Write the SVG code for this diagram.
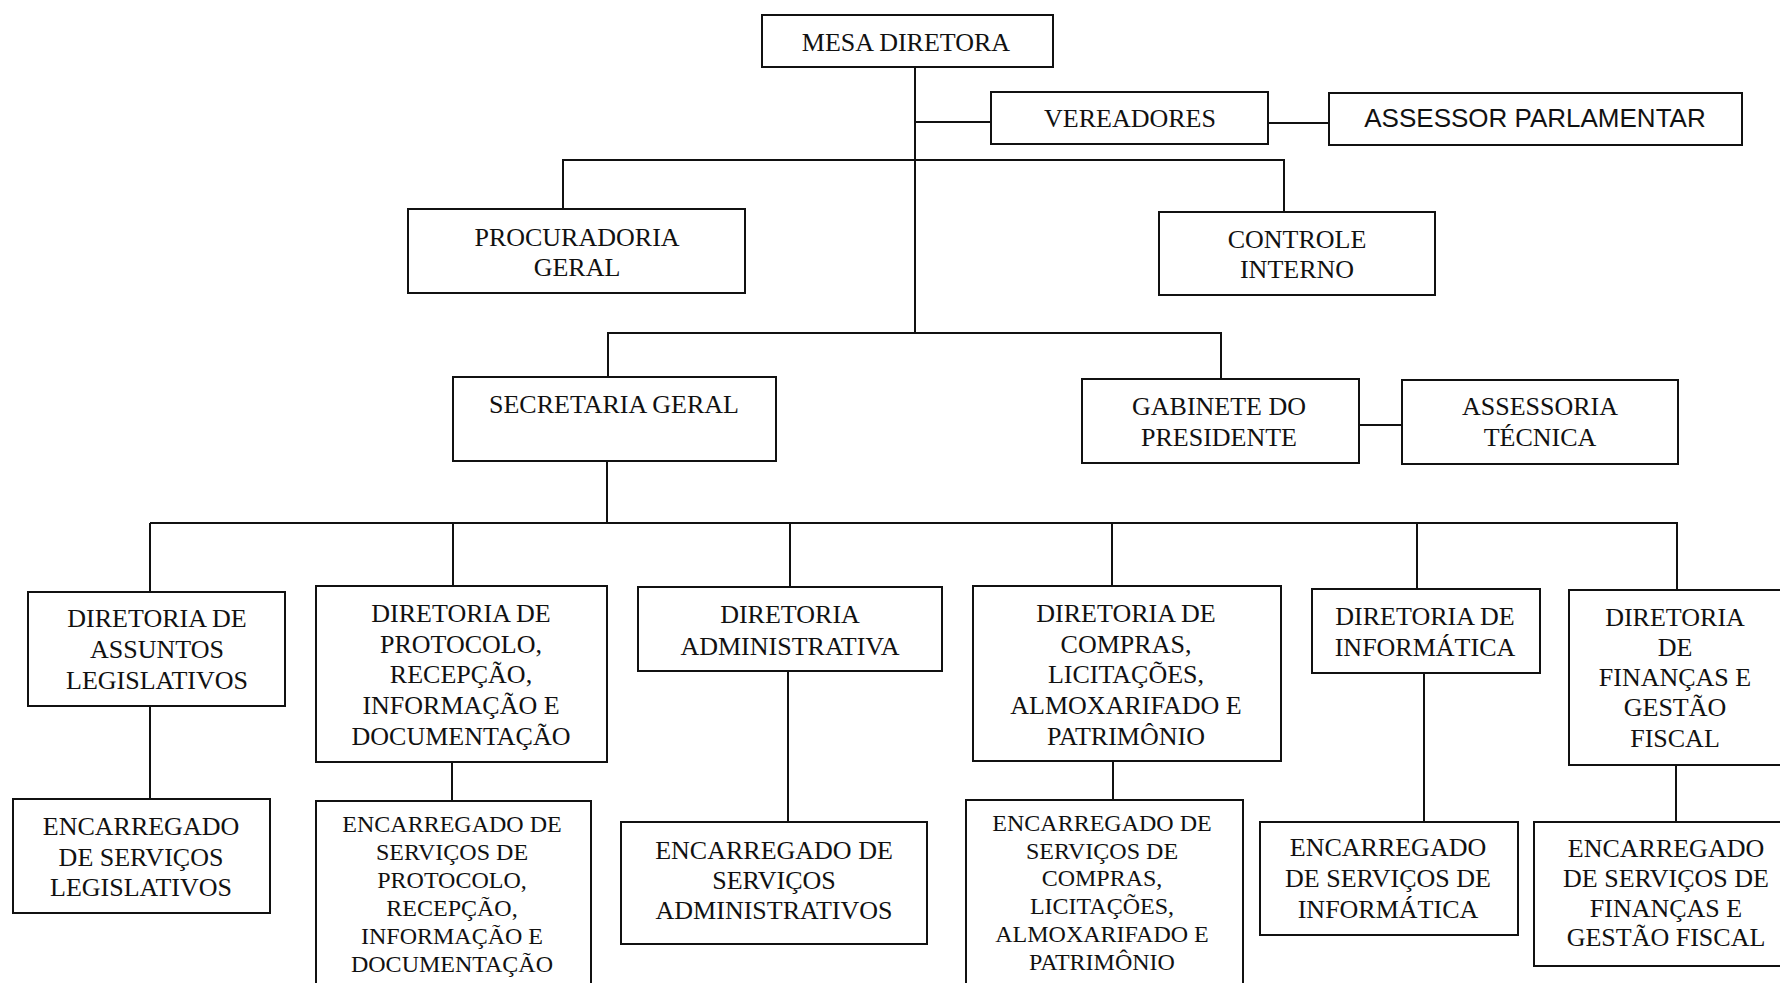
<svg xmlns="http://www.w3.org/2000/svg" width="1780" height="983" viewBox="0 0 1780 983">
<style>
rect{fill:#fff;stroke:#111;stroke-width:2}
.c path{fill:none;stroke:#111;stroke-width:2}
text{font-family:"Liberation Serif","Times New Roman",serif;font-size:26px;fill:#111;text-anchor:middle}
.s{font-family:"Liberation Sans",Arial,sans-serif}
.m{font-size:24px}
</style>
<rect x="0" y="0" width="1780" height="983" style="stroke:none"/>
<g class="c" id="connectors">
<path d="M915,67V333"/>
<path d="M915,122H991"/>
<path d="M1268,123H1329"/>
<path d="M563,209V160H1284V211"/>
<path d="M608,377V333H1221V379"/>
<path d="M1359,425H1402"/>
<path d="M607,461V523"/>
<path d="M150,523H1678"/>
<path d="M150,523V592M453,523V586M790,523V587M1112,523V586M1417,523V589M1677,523V590"/>
<path d="M150,706V799M452,762V801M788,671V822M1113,761V800M1424,673V822M1676,765V822"/>
</g>
<g id="mesa"><rect x="762" y="15" width="291" height="52"/><text x="906" y="51">MESA DIRETORA</text></g>
<g id="vereadores"><rect x="991" y="92" width="277" height="52"/><text x="1130" y="127">VEREADORES</text></g>
<g id="assessor-parlamentar"><rect x="1329" y="93" width="413" height="52"/><text class="s" x="1535" y="127">ASSESSOR PARLAMENTAR</text></g>
<g id="procuradoria"><rect x="408" y="209" width="337" height="84"/><text x="577" y="246">PROCURADORIA</text><text x="577" y="276">GERAL</text></g>
<g id="controle"><rect x="1159" y="212" width="276" height="83"/><text x="1297" y="248">CONTROLE</text><text x="1297" y="278">INTERNO</text></g>
<g id="secretaria"><rect x="453" y="377" width="323" height="84"/><text x="614" y="413">SECRETARIA GERAL</text></g>
<g id="gabinete"><rect x="1082" y="379" width="277" height="84"/><text x="1219" y="415">GABINETE DO</text><text x="1219" y="446">PRESIDENTE</text></g>
<g id="assessoria-tecnica"><rect x="1402" y="380" width="276" height="84"/><text x="1540" y="415">ASSESSORIA</text><text x="1540" y="446">TÉCNICA</text></g>
<g id="dir-assuntos"><rect x="28" y="592" width="257" height="114"/><text x="157" y="627">DIRETORIA DE</text><text x="157" y="658">ASSUNTOS</text><text x="157" y="689">LEGISLATIVOS</text></g>
<g id="dir-protocolo"><rect x="316" y="586" width="291" height="176"/><text x="461" y="622">DIRETORIA DE</text><text x="461" y="653">PROTOCOLO,</text><text x="461" y="683">RECEPÇÃO,</text><text x="461" y="714">INFORMAÇÃO E</text><text x="461" y="745">DOCUMENTAÇÃO</text></g>
<g id="dir-admin"><rect x="638" y="587" width="304" height="84"/><text x="790" y="623">DIRETORIA</text><text x="790" y="655">ADMINISTRATIVA</text></g>
<g id="dir-compras"><rect x="973" y="586" width="308" height="175"/><text x="1126" y="622">DIRETORIA DE</text><text x="1126" y="653">COMPRAS,</text><text x="1126" y="683">LICITAÇÕES,</text><text x="1126" y="714">ALMOXARIFADO E</text><text x="1126" y="745">PATRIMÔNIO</text></g>
<g id="dir-informatica"><rect x="1312" y="589" width="228" height="84"/><text x="1425" y="625">DIRETORIA DE</text><text x="1425" y="656">INFORMÁTICA</text></g>
<g id="dir-financas"><rect x="1569" y="590" width="230" height="175"/><text x="1675" y="626">DIRETORIA</text><text x="1675" y="656">DE</text><text x="1675" y="686">FINANÇAS E</text><text x="1675" y="716">GESTÃO</text><text x="1675" y="747">FISCAL</text></g>
<g id="enc-legislativos"><rect x="13" y="799" width="257" height="114"/><text x="141" y="835">ENCARREGADO</text><text x="141" y="866">DE SERVIÇOS</text><text x="141" y="896">LEGISLATIVOS</text></g>
<g id="enc-protocolo"><rect x="316" y="801" width="275" height="200"/><text class="m" x="452" y="832">ENCARREGADO DE</text><text class="m" x="452" y="860">SERVIÇOS DE</text><text class="m" x="452" y="888">PROTOCOLO,</text><text class="m" x="452" y="916">RECEPÇÃO,</text><text class="m" x="452" y="944">INFORMAÇÃO E</text><text class="m" x="452" y="972">DOCUMENTAÇÃO</text></g>
<g id="enc-admin"><rect x="621" y="822" width="306" height="122"/><text x="774" y="859">ENCARREGADO DE</text><text x="774" y="889">SERVIÇOS</text><text x="774" y="919">ADMINISTRATIVOS</text></g>
<g id="enc-compras"><rect x="966" y="800" width="277" height="200"/><text class="m" x="1102" y="831">ENCARREGADO DE</text><text class="m" x="1102" y="859">SERVIÇOS DE</text><text class="m" x="1102" y="886">COMPRAS,</text><text class="m" x="1102" y="914">LICITAÇÕES,</text><text class="m" x="1102" y="942">ALMOXARIFADO E</text><text class="m" x="1102" y="970">PATRIMÔNIO</text></g>
<g id="enc-informatica"><rect x="1260" y="822" width="258" height="113"/><text x="1388" y="856">ENCARREGADO</text><text x="1388" y="887">DE SERVIÇOS DE</text><text x="1388" y="918">INFORMÁTICA</text></g>
<g id="enc-financas"><rect x="1534" y="822" width="265" height="144"/><text x="1666" y="857">ENCARREGADO</text><text x="1666" y="887">DE SERVIÇOS DE</text><text x="1666" y="917">FINANÇAS E</text><text x="1666" y="946">GESTÃO FISCAL</text></g>
</svg>
